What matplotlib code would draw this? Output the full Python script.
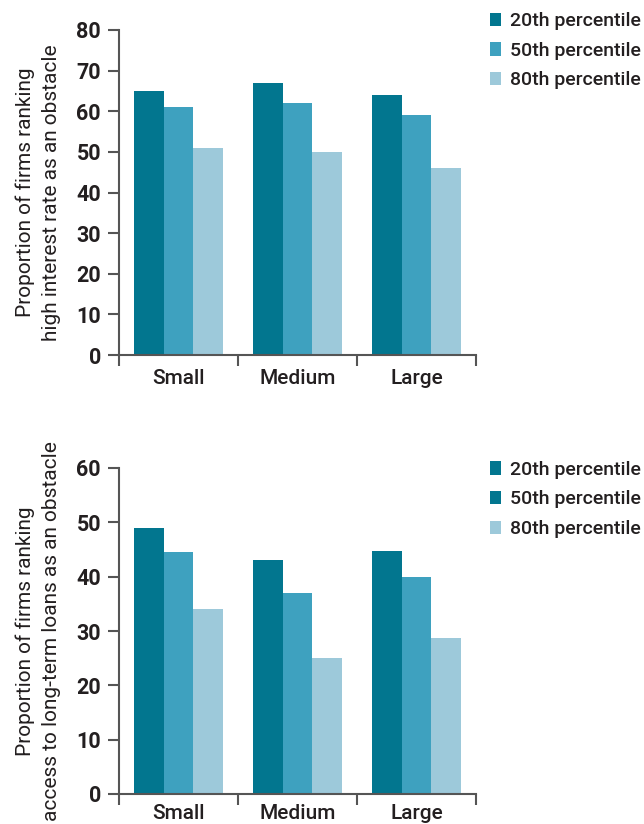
import matplotlib
matplotlib.use("Agg")
import matplotlib.pyplot as plt
from matplotlib.patches import Patch
from matplotlib.ticker import FixedLocator, NullFormatter
import numpy as np

categories = ["Small", "Medium", "Large"]
series_names = ["20th percentile", "50th percentile", "80th percentile"]

top_p20 = [65, 67, 64]
top_p50 = [61, 62, 59]
top_p80 = [51, 50, 46]

bot_p20 = [49, 43, 44.7]
bot_p50 = [44.5, 37, 40]
bot_p80 = [34, 25, 28.7]

top_ylabel = "Proportion of firms ranking\nhigh interest rate as an obstacle"
bot_ylabel = "Proportion of firms ranking\naccess to long-term loans as an obstacle"
top_yticks = [0, 10, 20, 30, 40, 50, 60, 70, 80]
bot_yticks = [0, 10, 20, 30, 40, 50, 60]

colors = ["#02768F", "#3EA1BF", "#9DC9DA"]
top_legend_colors = [colors[0], colors[1], colors[2]]
bot_legend_colors = [colors[0], colors[0], colors[2]]

fam = ["Roboto", "DejaVu Sans"]
plt.rcParams['font.family'] = fam
text_color = "#231F20"
spine_color = "#555555"

fig = plt.figure(figsize=(6.44, 8.24), dpi=100)
ax1 = fig.add_axes([119/644, 1-355/824, 357/644, 325/824])
ax2 = fig.add_axes([119/644, 1-794/824, 357/644, 326/824])


def draw(ax, series, yticks, ylabel, legend_colors, xpad, leg_y):
    x = np.arange(len(categories))
    w = 0.25
    for i, vals in enumerate(series):
        ax.bar(x + (i - 1) * w, vals, width=w, color=colors[i], linewidth=0, zorder=2)
    ax.set_xlim(-0.5, len(categories) - 0.5)
    ax.set_ylim(yticks[0], yticks[-1])
    ax.set_yticks(yticks)
    ax.set_yticklabels([str(t) for t in yticks], fontsize=15.5, fontweight="bold", color=text_color)
    ax.set_xticks(x)
    ax.set_xticklabels(categories, fontsize=15, fontweight="medium", color=text_color)
    ax.tick_params(axis="x", which="major", length=0, pad=xpad)
    ax.xaxis.set_minor_locator(FixedLocator(np.arange(-0.5, len(categories), 1.0)))
    ax.xaxis.set_minor_formatter(NullFormatter())
    ax.tick_params(axis="x", which="minor", length=8, width=1.5, color=spine_color)
    ax.tick_params(axis="y", length=8, width=1.5, color=spine_color, pad=5)
    for s in ["top", "right"]:
        ax.spines[s].set_visible(False)
    for s in ["left", "bottom"]:
        ax.spines[s].set_color(spine_color)
        ax.spines[s].set_linewidth(1.5)
    ax.set_ylabel(ylabel, fontsize=15, color=text_color, labelpad=11, linespacing=1.5)
    handles = [Patch(facecolor=c, edgecolor="none", label=n) for c, n in zip(legend_colors, series_names)]
    leg = ax.legend(handles=handles, loc="upper left", bbox_to_anchor=(1.04, leg_y),
                    frameon=False, prop={"family": fam, "size": 14, "weight": "medium"},
                    handlelength=0.55, handleheight=0.7, handletextpad=0.45,
                    labelspacing=0.6, borderaxespad=0, borderpad=0)
    for t in leg.get_texts():
        t.set_color(text_color)


draw(ax1, [top_p20, top_p50, top_p80], top_yticks, top_ylabel, top_legend_colors, 10, 1.055)
draw(ax2, [bot_p20, bot_p50, bot_p80], bot_yticks, bot_ylabel, bot_legend_colors, 7, 1.022)

fig.savefig("out.png", dpi=100)
